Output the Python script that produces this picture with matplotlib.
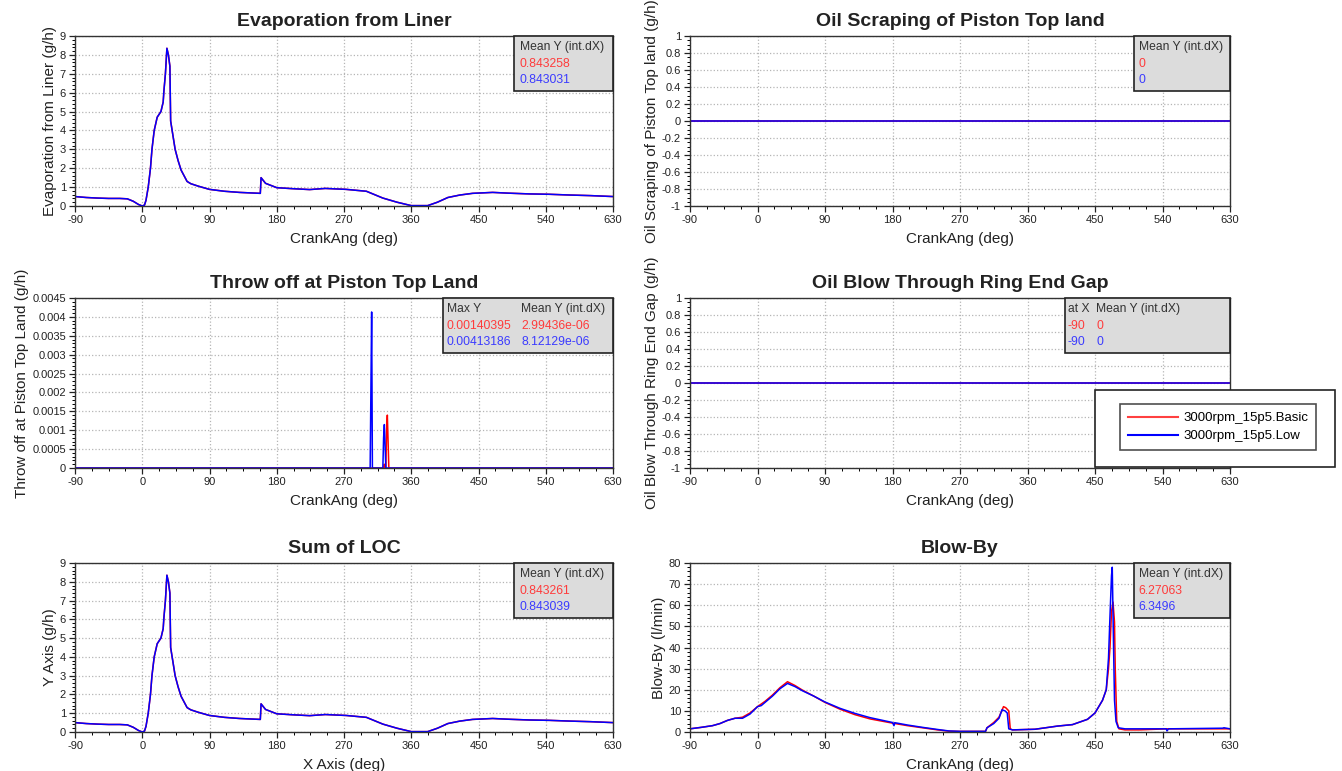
import matplotlib
matplotlib.use('Agg')
import matplotlib.pyplot as plt
from matplotlib.ticker import MultipleLocator, AutoMinorLocator, FuncFormatter
from matplotlib.patches import Rectangle
from matplotlib.lines import Line2D

plt.rcParams['font.family'] = ['Liberation Sans', 'DejaVu Sans']
plt.rcParams['axes.unicode_minus'] = False

# Series names
series_names = ['3000rpm_15p5.Basic', '3000rpm_15p5.Low']

# Evaporation from Liner (g/h) - both cases almost identical
evap_x = [-90, -75, -60, -45, -30, -20, -12, -5, 0, 3,
          5, 8, 11, 13, 16, 20, 25, 28, 29, 31,
          33, 35, 37, 38, 40, 44, 48, 52, 56, 60,
          65, 75, 90, 110, 130, 158, 159, 165, 180, 200,
          224, 245, 273, 300, 322, 341, 360, 382, 395, 409,
          425, 442, 469, 490, 518, 545, 573, 600, 630]
evap_y = [0.5, 0.45, 0.42, 0.4, 0.4, 0.38, 0.25, 0.08, 0.0, 0.05,
          0.3, 1.0, 2.0, 3.0, 4.0, 4.7, 5.0, 5.5, 6.1, 7.0,
          8.35, 8.0, 7.4, 4.5, 4.0, 3.0, 2.4, 1.9, 1.6, 1.3,
          1.18, 1.05, 0.88, 0.78, 0.72, 0.67, 1.5, 1.2, 0.97, 0.92,
          0.87, 0.93, 0.88, 0.78, 0.42, 0.2, 0.02, 0.02, 0.2, 0.45,
          0.58, 0.67, 0.72, 0.68, 0.64, 0.62, 0.58, 0.55, 0.5]

# Sum of LOC (g/h)
loc_x = [-90, -75, -60, -45, -30, -20, -12, -5, 0, 3,
         5, 8, 11, 13, 16, 20, 25, 28, 29, 31,
         33, 35, 37, 38, 40, 44, 48, 52, 56, 60,
         65, 75, 90, 110, 130, 158, 159, 165, 180, 200,
         224, 245, 273, 300, 322, 341, 360, 382, 395, 409,
         425, 442, 469, 490, 518, 545, 573, 600, 630]
loc_y = [0.5, 0.45, 0.42, 0.4, 0.4, 0.38, 0.25, 0.08, 0.0, 0.05,
         0.3, 1.0, 2.0, 3.0, 4.0, 4.7, 5.0, 5.5, 6.1, 7.0,
         8.35, 8.0, 7.4, 4.5, 4.0, 3.0, 2.4, 1.9, 1.6, 1.3,
         1.18, 1.05, 0.88, 0.78, 0.72, 0.67, 1.5, 1.2, 0.97, 0.92,
         0.87, 0.93, 0.88, 0.78, 0.42, 0.2, 0.02, 0.02, 0.2, 0.45,
         0.58, 0.67, 0.72, 0.68, 0.64, 0.62, 0.58, 0.55, 0.5]

# Oil scraping / blow through - zero everywhere
flat_x = [-90, 630]
flat_y = [0, 0]

# Throw off at Piston Top Land (g/h)
throw_basic_x = [-90, 323, 324, 325, 326, 327, 328, 329, 330, 630]
throw_basic_y = [0, 0, 0.0001, 0, 0, 0.001, 0.0014, 0.0007, 0, 0]
throw_low_x = [-90, 305, 306, 307, 308, 322, 323, 324, 325, 326, 630]
throw_low_y = [0, 0, 0.00205, 0.00413, 0, 0, 0.0008, 0.00115, 0.0006, 0, 0]

# Blow-By (l/min)
bb_basic_x = [-90, -75, -60, -50, -40, -30, -20, -10, 0, 10,
              20, 30, 40, 50, 60, 75, 90, 110, 130, 150,
              180, 200, 220, 240, 255, 270, 304, 306, 315, 322,
              328, 331, 335, 337, 340, 370, 400, 420, 440, 450,
              460, 465, 468, 470, 472, 474, 476, 477, 479, 482,
              490, 510, 545, 630]
bb_basic_y = [1.5, 2.2, 3, 4, 5.5, 6.5, 7, 9, 12, 14.5,
              17.5, 21, 23.8, 22, 19.8, 17, 14, 10.8, 8.2, 6.2,
              4.2, 3, 2, 1, 0.4, 0.3, 0.3, 2, 4.5, 7,
              12, 11.5, 10, 1.5, 1, 1.3, 2.8, 3.5, 6, 9,
              15, 20, 30, 40, 57, 61.5, 52, 30, 5, 1.5,
              1, 1, 1.5, 1.5]
bb_low_x = [-90, -75, -60, -50, -40, -30, -20, -10, 0, 5,
            10, 20, 30, 40, 50, 60, 75, 90, 110, 130,
            150, 180, 182, 183, 200, 220, 240, 255, 270, 304,
            306, 315, 322, 326, 330, 333, 335, 340, 370, 400,
            420, 440, 450, 460, 465, 468, 470, 472, 473, 475,
            476, 478, 481, 490, 545, 546, 548, 620, 622, 630]
bb_low_y = [1.5, 2.2, 3, 4, 5.5, 6.5, 6.5, 8.5, 12, 12.5,
            14, 17, 20.5, 23, 21.5, 19.5, 17, 14.2, 11.2, 8.8,
            6.8, 4.5, 3, 4.4, 3.3, 2.2, 1.2, 0.5, 0.3, 0.3,
            2, 4, 6.5, 10.5, 10, 9, 1.5, 1, 1.3, 2.8,
            3.5, 6, 9, 15, 20, 35, 55, 74, 78, 35,
            15, 5, 2, 1.5, 1.5, 0.5, 1.5, 1.8, 2, 1.5]

RED = '#ff0000'
BLUE = '#0000ff'
TXT_RED = '#ff3b3b'
TXT_BLUE = '#3b3bff'
DARK = '#222222'

W, H = 1342, 771
fig = plt.figure(figsize=(W / 100, H / 100), dpi=100)


def add_ax(l, t, r, b):
    return fig.add_axes([l / W, 1 - b / H, (r - l) / W, (b - t) / H])


def style_ax(ax, title, xlabel, ylabel, ylim, ystep, yminor=5):
    ax.set_xlim(-90, 630)
    ax.set_ylim(*ylim)
    ax.xaxis.set_major_locator(MultipleLocator(90))
    ax.xaxis.set_minor_locator(AutoMinorLocator(4))
    ax.yaxis.set_major_locator(MultipleLocator(ystep))
    ax.yaxis.set_minor_locator(AutoMinorLocator(yminor))
    ax.yaxis.set_major_formatter(FuncFormatter(lambda v, p: '%g' % round(v, 6)))
    ax.tick_params(labelsize=8, colors=DARK, length=4, width=0.9, pad=2.5)
    ax.tick_params(which='minor', length=2, width=0.7)
    ax.grid(True, which='major', color='#b5b5b5', linestyle=':', linewidth=0.9)
    for s in ax.spines.values():
        s.set_color('#333333')
        s.set_linewidth(1.0)
    ax.set_title(title, fontsize=14, fontweight='bold', color=DARK, pad=7)
    ax.set_xlabel(xlabel, fontsize=11, color=DARK, labelpad=5)
    ax.set_ylabel(ylabel, fontsize=11, color=DARK, labelpad=2)


def stats_box(ax, left, cols, col_x, ax_h=170):
    bottom = 1 - 55 / ax_h
    ax.add_patch(Rectangle((left, bottom), 1 - left, 1 - bottom, transform=ax.transAxes,
                           facecolor='#dcdcdc', edgecolor='#222222', lw=1.2,
                           zorder=6, clip_on=False))
    rows = [1 - 11 / ax_h, 1 - 28 / ax_h, 1 - 44 / ax_h]
    for (hdr, rv, bv), cx in zip(cols, col_x):
        for txt, c, y in [(hdr, '#333333', rows[0]), (rv, TXT_RED, rows[1]), (bv, TXT_BLUE, rows[2])]:
            ax.text(cx, y, txt, color=c, fontsize=8.7, transform=ax.transAxes,
                    ha='left', va='center', zorder=7)


# Evaporation from Liner
ax1 = add_ax(75, 36, 613, 206)
ax1.plot(evap_x, evap_y, color=RED, lw=1.1)
ax1.plot(evap_x, evap_y, color=BLUE, lw=1.1)
style_ax(ax1, 'Evaporation from Liner', 'CrankAng (deg)', 'Evaporation from Liner (g/h)', (0, 9), 1)
stats_box(ax1, 0.816, [('Mean Y (int.dX)', '0.843258', '0.843031')], [0.827])

# Oil Scraping of Piston Top land
ax2 = add_ax(690, 36, 1230, 206)
ax2.plot(flat_x, flat_y, color=RED, lw=1.1)
ax2.plot(flat_x, flat_y, color=BLUE, lw=1.1)
style_ax(ax2, 'Oil Scraping of Piston Top land', 'CrankAng (deg)',
         'Oil Scraping of Piston Top land (g/h)', (-1, 1), 0.2, 4)
stats_box(ax2, 0.822, [('Mean Y (int.dX)', '0', '0')], [0.831])

# Throw off at Piston Top Land
ax3 = add_ax(75, 298, 613, 468)
ax3.plot(throw_basic_x, throw_basic_y, color=RED, lw=1.1)
ax3.plot(throw_low_x, throw_low_y, color=BLUE, lw=1.1)
style_ax(ax3, 'Throw off at Piston Top Land', 'CrankAng (deg)',
         'Throw off at Piston Top Land (g/h)', (0, 0.0045), 0.0005)
stats_box(ax3, 0.684, [('Max Y', '0.00140395', '0.00413186'),
                       ('Mean Y (int.dX)', '2.99436e-06', '8.12129e-06')], [0.691, 0.829])

# Oil Blow Through Ring End Gap
ax4 = add_ax(690, 298, 1230, 468)
ax4.plot(flat_x, flat_y, color=RED, lw=1.1)
ax4.plot(flat_x, flat_y, color=BLUE, lw=1.1)
style_ax(ax4, 'Oil Blow Through Ring End Gap', 'CrankAng (deg)',
         'Oil Blow Through Ring End Gap (g/h)', (-1, 1), 0.2, 4)
stats_box(ax4, 0.694, [('at X', '-90', '-90'), ('Mean Y (int.dX)', '0', '0')], [0.700, 0.752])

# Sum of LOC
ax5 = add_ax(75, 563, 613, 732)
ax5.plot(loc_x, loc_y, color=RED, lw=1.1)
ax5.plot(loc_x, loc_y, color=BLUE, lw=1.1)
style_ax(ax5, 'Sum of LOC', 'X Axis (deg)', 'Y Axis (g/h)', (0, 9), 1)
stats_box(ax5, 0.816, [('Mean Y (int.dX)', '0.843261', '0.843039')], [0.827], ax_h=169)

# Blow-By
ax6 = add_ax(690, 563, 1230, 732)
ax6.plot(bb_basic_x, bb_basic_y, color=RED, lw=1.1)
ax6.plot(bb_low_x, bb_low_y, color=BLUE, lw=1.1)
style_ax(ax6, 'Blow-By', 'CrankAng (deg)', 'Blow-By (l/min)', (0, 80), 10)
stats_box(ax6, 0.822, [('Mean Y (int.dX)', '6.27063', '6.3496')], [0.831], ax_h=169)

# Legend with outer frame
outer = Rectangle((1095 / W, 1 - 467 / H), 240 / W, 77 / H, transform=fig.transFigure,
                  facecolor='white', edgecolor='#222222', lw=1.2, zorder=4)
fig.patches.append(outer)
handles = [Line2D([], [], color='#ff4040', lw=1.5), Line2D([], [], color=BLUE, lw=1.5)]
leg = fig.legend(handles, series_names, loc='upper left',
                 bbox_to_anchor=(1120 / W, 1 - 404 / H), borderaxespad=0,
                 fontsize=9.5, handlelength=3.8, handletextpad=0.4,
                 borderpad=0.6, labelspacing=0.45, frameon=True, fancybox=False)
leg.get_frame().set_edgecolor('#222222')
leg.get_frame().set_linewidth(1.2)
leg.set_zorder(5)

fig.savefig('out.png', dpi=100)
